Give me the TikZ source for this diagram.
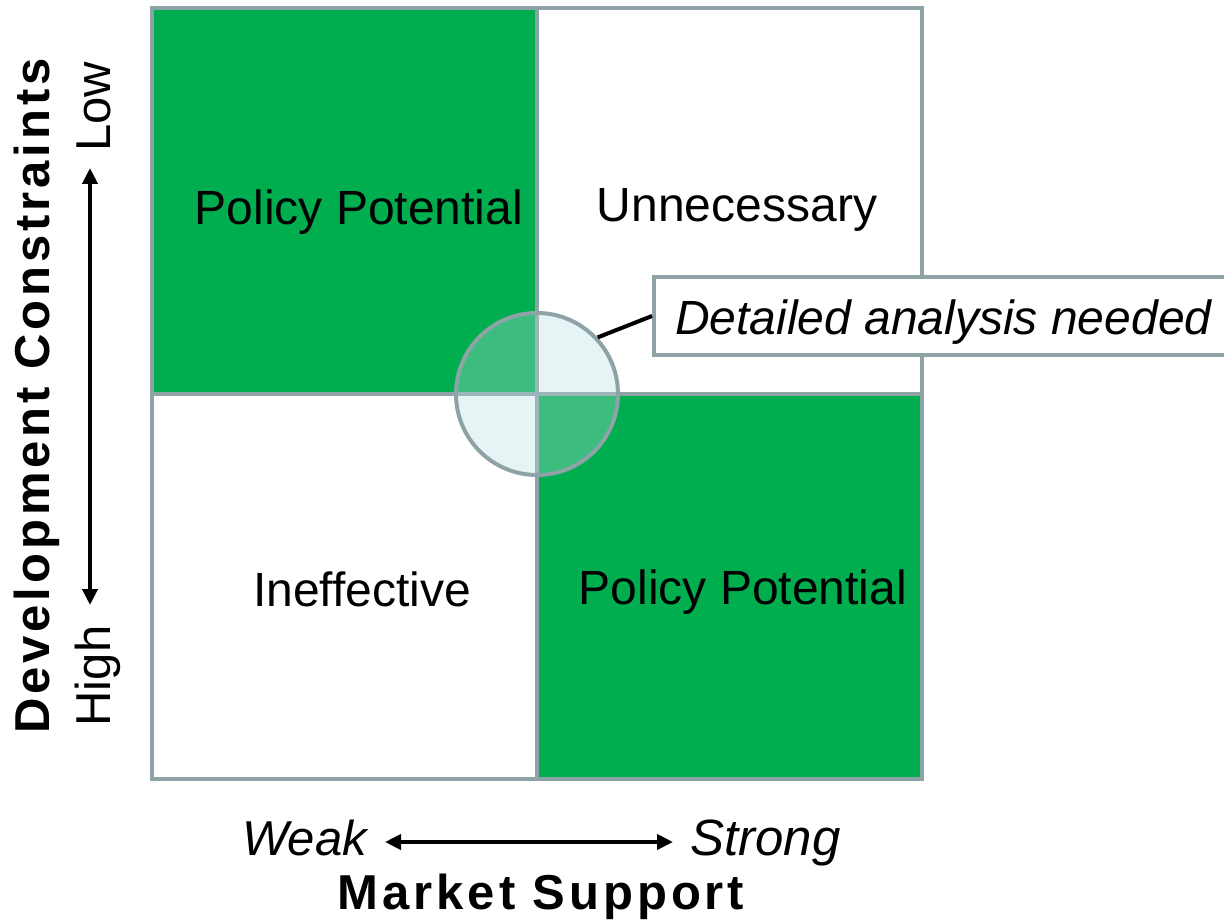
\documentclass[tikz,border=0pt]{standalone}
\usepackage{fontspec}
\setmainfont{Liberation Sans}
\newfontfamily\widefont[LetterSpace=8]{Liberation Sans}
\usetikzlibrary{arrows.meta}
\definecolor{gridgrey}{RGB}{141,163,166}
\definecolor{cellgreen}{RGB}{0,173,79}
\definecolor{halo}{RGB}{185,222,225}
\tikzset{
  cell/.style={draw=gridgrey, line width=4pt, minimum width=385pt, minimum height=385pt, inner sep=0pt},
  celltext/.style={anchor=base, inner sep=0pt, font=\fontsize{48}{58}\selectfont},
  axislabel/.style={anchor=base, inner sep=0pt, font=\fontsize{49}{58}\selectfont},
  axistitle/.style={anchor=base, inner sep=0pt, font=\fontsize{49}{58}\selectfont\widefont\bfseries},
  axisarrow/.style={line width=4pt, {Triangle[length=16pt,width=15pt]}-{Triangle[length=16pt,width=15pt]}},
}
\begin{document}
\begin{tikzpicture}[x=1pt,y=-1pt]
\useasboundingbox (0,0) rectangle (1224,923);
\clip (0,0) rectangle (1224,923);
% quadrants
\node[cell, fill=cellgreen] (tl) at (344,201) {};
\node[cell, fill=white] (tr) at (729,201) {};
\node[cell, fill=white] (bl) at (344,586) {};
\node[cell, fill=cellgreen] (br) at (729,586) {};
% texts in cells
\node[celltext] (tlt) at (359,224) {Policy Potential};
\node[celltext] (trt) at (737,221) {Unnecessary};
\node[celltext] (blt) at (362,606) {Ineffective};
\node[celltext] (brt) at (743,604) {Policy Potential};
% overlap circle
\node[circle, draw=gridgrey, line width=4pt, fill=halo, fill opacity=0.33, draw opacity=1, minimum size=162pt, inner sep=0pt] (c) at (537,394) {};
% callout
\node[draw=gridgrey, line width=4pt, fill=white, anchor=west, minimum width=620pt, minimum height=78pt, inner sep=0pt] (box) at (652,316) {};
\node[anchor=base west, inner sep=0pt, font=\fontsize{48}{58}\selectfont\itshape] (boxt) at (675,334) {Detailed analysis needed};
\draw[line width=4pt, black] (c.43) -- (box.west);
% vertical axis
\node[axistitle, rotate=90] (dc) at (49,396) {Development Constraints};
\node[axislabel, rotate=90] (low) at (110,107) {Low};
\node[axislabel, rotate=90] (high) at (110,676) {High};
\coordinate (vtop) at (90,168);
\coordinate (vbot) at (90,605);
\draw[axisarrow] (vtop) -- (vbot);
% horizontal axis
\node[axislabel, anchor=base east, font=\fontsize{49}{58}\selectfont\itshape] (weak) at (367,855) {Weak};
\node[axislabel, anchor=base west, font=\fontsize{51}{58}\selectfont\itshape] (strong) at (690,855) {Strong};
\coordinate (hl) at (385,842);
\coordinate (hr) at (673,842);
\draw[axisarrow] (hl) -- (hr);
\node[axistitle] (ms) at (541,909) {Market Support};
\end{tikzpicture}
\end{document}
